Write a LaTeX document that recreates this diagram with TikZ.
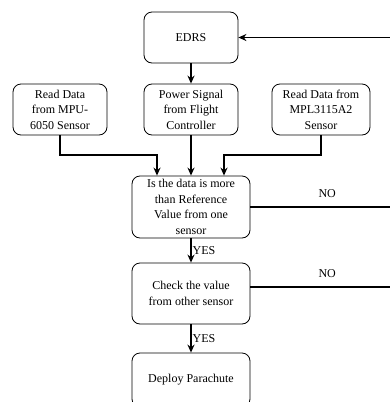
\documentclass[tikz,border=0pt]{standalone}
\usepackage{fontspec}
\setmainfont{Liberation Serif}
\usetikzlibrary{arrows.meta}

\begin{document}
\begin{tikzpicture}[x=1pt,y=-1pt,
    main node/.style={draw,rounded corners=8pt,line width=0.8pt,align=center,
      font=\fontsize{12}{15.5}\selectfont,inner sep=1pt},
    flow/.style={line width=1.4pt,-{Stealth[length=8pt,width=7pt]}},
    plain/.style={line width=1.4pt},
    tag/.style={font=\fontsize{12}{14}\selectfont}]
  \clip (0,0) rectangle (390,402);

  \node[main node,minimum width=94pt,minimum height=51pt] (edrs) at (191,37.5) {EDRS};
  \node[main node,minimum width=94pt,minimum height=51pt] (mpu) at (60,109.5) {Read Data\\from MPU-\\6050 Sensor};
  \node[main node,minimum width=94pt,minimum height=51pt] (power) at (191,109.5) {Power Signal\\from Flight\\Controller};
  \node[main node,minimum width=98pt,minimum height=51pt] (mpl) at (321,109.5) {Read Data from\\MPL3115A2\\Sensor};
  \node[main node,minimum width=118pt,minimum height=62pt] (cmp) at (191,207) {Is the data is more\\than Reference\\Value from one\\sensor};
  \node[main node,minimum width=118pt,minimum height=61pt] (other) at (191,293.5) {Check the value\\from other sensor};
  \node[main node,minimum width=118pt,minimum height=54pt] (deploy) at (191,380) {Deploy Parachute};

  \coordinate (back) at (390,37.5);
  \coordinate (jl) at (157,155);
  \coordinate (jr) at (224,155);
  \coordinate (no1) at (390,207);
  \coordinate (no2) at (390,287);

  \draw[flow] (back) -- (edrs);
  \draw[flow] (edrs) -- (power);
  \draw[flow] (power) -- (cmp);
  \draw[flow] (mpu.south) |- (jl) -- (jl |- cmp.north);
  \draw[flow] (mpl.south) |- (jr) -- (jr |- cmp.north);
  \draw[flow] (cmp) -- (other) node[midway,right,inner sep=1pt,tag] {YES};
  \draw[flow] (other) -- (deploy) node[midway,right,inner sep=1pt,tag] {YES};
  \draw[plain] (cmp.east) -- (no1) node[pos=0.55,above=5pt,tag] {NO};
  \draw[plain] (other.east |- no2) -- (no2) node[pos=0.55,above=5pt,tag] {NO};
\end{tikzpicture}
\end{document}
